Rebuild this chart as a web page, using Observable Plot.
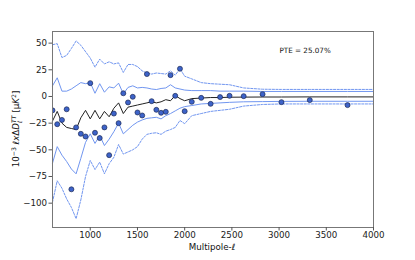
<!DOCTYPE html>
<html><head><meta charset="utf-8">
<script src="https://cdn.jsdelivr.net/npm/d3@7"></script>
<script src="https://cdn.jsdelivr.net/npm/@observablehq/plot@0.6"></script>
<style>
html,body{margin:0;padding:0;background:#fff;}
#chart{width:415px;height:260px;}
</style></head>
<body><div id="chart"></div>
<script>
const ell = [600,650,700,750,800,850,900,950,1000,1050,1100,1150,1200,1250,1300,1350,1400,1450,1500,1550,1600,1650,1700,1750,1800,1850,1900,1950,2000,2075,2175,2275,2375,2475,2625,2825,3025,3325,3725,4000];
const points = [-13,-26,-22,-12,-87,-29,-35,-37.5,12.5,-34,-39,-29,-55,-16,-25,3,-5.6,-0.3,-15,-17.8,21,-4.4,-12.5,-15.3,-14.4,20,0.6,26,-13.8,-5,-1.3,-6.9,-0.6,0.6,0.3,2.2,-5.3,-3.4,-8.1,null];
const meanLine = [-23,-14,-25,-29,-30,-31,-20,-13,-21,-13,-21,-14,-19,-11,-6,-16,-10,-9,-8,-7,-6,-5,-6,-5,-3,-4,1,-2,-4,-2,-1.5,-1,-1,-0.7,-0.6,-0.5,-0.5,-0.4,-0.4,-0.4];
const up1 = [10,17.5,5,5,7,10,13,12,13,3,12,4,9,8,12.5,2.5,8.5,10,8,8.5,8,7,6.5,7.5,8,11,8,7,6,5.5,5.5,5.5,5,5,5,4.7,4.7,4.7,4.7,4.7];
const lo1 = [-62.5,-47,-55,-61,-68,-72.5,-58,-43,-35,-44,-36.6,-46,-40,-33,-25,-35,-31,-27,-24,-22,-20.5,-20,-19.5,-21,-18,-16,-13.5,-11,-9.5,-8.5,-7,-6.5,-6,-5.5,-5,-4.8,-4.6,-4.5,-4.5,-4.5];
const up2 = [48.5,49.5,36.5,38.5,45,52,48,42,36,27.5,35,30.5,32.5,30.5,31.5,22.5,30,30,28,24,22,21,22,21.5,21,24,20,26,19,16.5,13,12,11.5,11,8,6.8,6.6,6.6,6.6,6.6];
const lo2 = [-99,-79,-86,-96,-104,-114.5,-97,-75,-60,-68.5,-61.5,-72.5,-63,-57,-45,-54,-52,-50,-47,-40,-35.5,-34.5,-34,-35.5,-32.5,-31,-29,-22.5,-25.5,-18,-16,-14,-13,-12,-9,-7.5,-7,-7,-7,-7];
const xTicks = [1000,1500,2000,2500,3000,3500,4000];
const yTicks = [-100,-75,-50,-25,0,25,50];
const pteText = "PTE = 25.07%";

const rows = ell.map((l,i)=>({l, p:points[i], m:meanLine[i], u1:up1[i], d1:lo1[i], u2:up2[i], d2:lo2[i]}));
const blue = "#7196f0";
const font = "DejaVu Sans, sans-serif";

const svg = Plot.plot({
  width: 415, height: 260,
  marginLeft: 52, marginRight: 42, marginTop: 31, marginBottom: 33,
  style: {fontFamily: font, fontSize: "8.7px", color: "#222", background: "#fff"},
  x: {domain: [600, 4000]},
  y: {domain: [-122.8, 60.9]},
  marks: [
    Plot.lineY(rows, {x:"l", y:"u2", stroke: blue, strokeWidth: 1, strokeDasharray: "2.2,1.4"}),
    Plot.lineY(rows, {x:"l", y:"d2", stroke: blue, strokeWidth: 1, strokeDasharray: "2.2,1.4"}),
    Plot.lineY(rows, {x:"l", y:"u1", stroke: blue, strokeWidth: 1}),
    Plot.lineY(rows, {x:"l", y:"d1", stroke: blue, strokeWidth: 1}),
    Plot.lineY(rows, {x:"l", y:"m", stroke: "#222", strokeWidth: 1}),
    Plot.dot(rows.filter(d=>d.p!=null), {x:"l", y:"p", r: 2.5, fill: "#3d63c9", stroke: "#1c2a55", strokeWidth: 0.7, clip: true}),
    Plot.frame({stroke: "#777", strokeWidth: 1}),
    Plot.axisX({ticks: xTicks, tickSize: 3.5, tickPadding: 0.5, tickFormat: d=>String(d), label: null, stroke:"#555"}),
    Plot.axisY({ticks: yTicks, tickSize: 3.5, tickPadding: 2, tickFormat: d=> d<0 ? "\u2212"+Math.abs(d) : String(d), label: null, stroke:"#555"}),
    Plot.text([pteText], {frameAnchor: "top-left", dx: 227, dy: 16, text: d=>d, fontSize: 7.2, fill: "#111", textAnchor: "start"})
  ]
});
document.getElementById("chart").appendChild(svg);

const s = d3.select(svg);
s.append("text").attr("x", 212).attr("y", 249.5).attr("text-anchor","middle")
  .attr("font-family", font).attr("font-size", 8.7).attr("fill","#111")
  .text("Multipole-\u2113");

const yl = s.append("text").attr("transform","translate(19,129) rotate(-90)")
  .attr("text-anchor","middle").attr("font-family", font).attr("font-size", 8.7).attr("fill","#111");
yl.append("tspan").text("10");
yl.append("tspan").attr("dy",-3.5).attr("font-size",6.2).text("\u22123");
yl.append("tspan").attr("dy",3.5).text(" \u2113");
yl.append("tspan").attr("font-style","italic").text("x");
yl.append("tspan").text("\u0394");
yl.append("tspan").attr("font-style","italic").text("D");
yl.append("tspan").attr("dy",2.5).attr("font-size",6.2).text("\u2113");
yl.append("tspan").attr("dy",-6).attr("dx",-2.5).attr("font-size",6.2).attr("font-style","italic").text("TT");
yl.append("tspan").attr("dy",3.5).text(" [\u03bc");
yl.append("tspan").attr("font-style","italic").text("K");
yl.append("tspan").attr("dy",-3.5).attr("font-size",6.2).text("2");
yl.append("tspan").attr("dy",3.5).text("]");
</script>
</body></html>
